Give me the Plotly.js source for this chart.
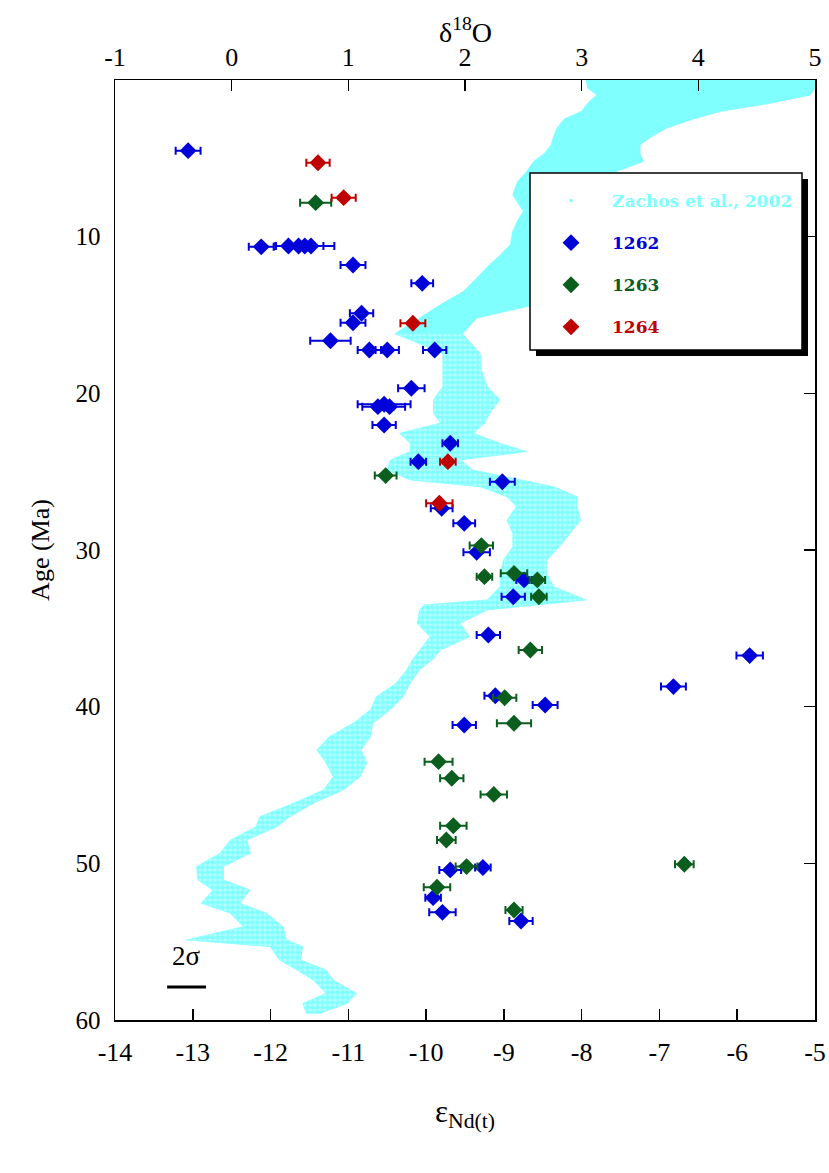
<!DOCTYPE html>
<html><head><meta charset="utf-8">
<script src="https://cdn.plot.ly/plotly-3.0.1.min.js"></script>
<style>body{margin:0;background:#fff}#plot{width:829px;height:1173px}</style>
</head><body><div id="plot"></div>
<script>
// Zachos et al., 2002 delta18O envelope (age Ma, min, max)
const zAge = [0, 0.5, 0.95, 1.5, 2.0, 2.5, 3.06, 3.6, 4.13, 4.7, 5.19, 5.83, 6.5, 7.32, 8.38, 9.0, 9.66, 10.5, 11.2, 11.8, 12.64, 13.49, 14.34, 15.19, 16.2, 17.45, 18.5, 19.57, 20.4, 21.28, 21.9, 22.55, 23.19, 23.72, 24.25, 24.9, 25.53, 25.96, 26.6, 27.23, 28.1, 28.94, 29.79, 30.64, 31.49, 32.34, 33.19, 33.5, 33.83, 34.68, 35.53, 36.38, 37.0, 37.66, 38.5, 39.36, 40.2, 41.06, 41.9, 42.76, 43.6, 44.47, 45.3, 46.17, 47.02, 47.66, 48.51, 49.36, 50.21, 51.06, 51.7, 52.55, 53.19, 54.04, 54.89, 55.32, 56.17, 56.81, 57.45, 58.3, 58.94, 59.57];
const zMin = [3.04, 3.05, 3.13, 3.05, 3.0, 2.85, 2.79, 2.76, 2.74, 2.68, 2.59, 2.53, 2.45, 2.41, 2.5, 2.45, 2.41, 2.39, 2.3, 2.21, 2.10, 1.99, 1.79, 1.61, 1.4, 1.81, 1.81, 1.81, 1.73, 1.73, 1.79, 1.44, 1.53, 1.53, 1.36, 1.33, 1.53, 2.13, 2.36, 2.44, 2.36, 2.41, 2.41, 2.33, 2.30, 2.30, 2.19, 1.65, 1.61, 1.59, 1.70, 1.61, 1.55, 1.50, 1.41, 1.24, 1.19, 1.04, 0.84, 0.73, 0.81, 0.87, 0.79, 0.53, 0.24, 0.21, -0.01, -0.10, -0.30, -0.29, -0.16, -0.26, -0.01, 0.10, -0.39, 0.33, 0.41, 0.56, 0.70, 0.81, 0.61, 0.64];
const zMax = [5.0, 5.0, 4.96, 4.6, 4.19, 3.95, 3.73, 3.6, 3.5, 3.5, 3.53, 3.3, 3.2, 3.2, 3.2, 3.2, 3.2, 3.2, 3.2, 3.2, 3.2, 3.2, 2.6, 2.1, 1.98, 2.13, 2.14, 2.19, 2.30, 2.21, 2.17, 2.07, 2.30, 2.53, 1.96, 2.07, 2.47, 2.76, 2.96, 2.96, 2.99, 2.90, 2.81, 2.70, 2.70, 2.76, 3.04, 2.6, 2.19, 1.96, 2.04, 1.79, 1.72, 1.61, 1.53, 1.47, 1.36, 1.21, 1.19, 1.11, 1.16, 1.10, 0.96, 0.70, 0.50, 0.39, 0.13, 0.16, -0.07, -0.07, 0.16, 0.07, 0.30, 0.44, 0.47, 0.61, 0.59, 0.81, 0.87, 1.07, 0.99, 0.76];
const denseUntil = 16.2; // cloud is nearly solid above this age, speckled below

// Site 1262
const age1262 = [4.51, 10.65, 10.6, 10.6, 10.6, 10.6, 11.81, 12.98, 14.89, 15.49, 16.64, 17.23, 17.23, 17.23, 19.68, 20.85, 20.7, 20.85, 22.02, 23.19, 24.36, 25.64, 27.34, 28.3, 30.15, 31.91, 32.98, 35.43, 36.74, 38.72, 39.3, 39.89, 41.17, 50.42, 50.27, 52.19, 53.13, 53.68];
const eNd1262 = [-13.06, -12.12, -11.77, -11.64, -11.56, -11.48, -10.94, -10.05, -10.83, -10.94, -11.23, -10.73, -10.50, -9.89, -10.19, -10.62, -10.54, -10.47, -10.54, -9.69, -10.10, -9.02, -9.80, -9.51, -9.35, -8.74, -8.88, -9.20, -5.84, -6.82, -9.11, -8.47, -9.51, -9.69, -9.27, -9.91, -9.79, -8.78];
const err1262 = [0.16, 0.16, 0.16, 0.16, 0.38, 0.16, 0.16, 0.14, 0.15, 0.16, 0.26, 0.15, 0.15, 0.15, 0.17, 0.2, 0.34, 0.2, 0.15, 0.1, 0.1, 0.16, 0.14, 0.14, 0.17, 0.1, 0.15, 0.15, 0.17, 0.16, 0.14, 0.16, 0.15, 0.14, 0.1, 0.1, 0.17, 0.15];

// Site 1263
const age1263 = [7.83, 25.25, 29.72, 31.7, 31.49, 31.91, 32.98, 36.38, 39.43, 41.06, 43.51, 44.57, 45.6, 47.6, 48.51, 50.21, 50.06, 51.53, 52.98];
const eNd1263 = [-11.42, -10.52, -9.29, -9.25, -8.87, -8.57, -8.55, -8.66, -8.99, -8.87, -9.84, -9.67, -9.13, -9.65, -9.74, -9.48, -6.68, -9.86, -8.87];
const err1263 = [0.2, 0.14, 0.15, 0.1, 0.17, 0.1, 0.1, 0.15, 0.15, 0.22, 0.18, 0.15, 0.17, 0.17, 0.12, 0.14, 0.12, 0.17, 0.11];

// Site 1264
const age1264 = [5.28, 7.51, 15.53, 24.36, 27.02];
const eNd1264 = [-11.39, -11.06, -10.17, -9.72, -9.83];
const err1264 = [0.15, 0.155, 0.16, 0.1, 0.17];

const eNdTicks = [-14, -13, -12, -11, -10, -9, -8, -7, -6, -5];
const d18OTicks = [-1, 0, 1, 2, 3, 4, 5];
const ageTicks = [10, 20, 30, 40, 50, 60];
const twoSigma = 0.5;

const CYAN = '#80FFFF', BLUE = '#0000D8', GREEN = '#0B5E1E', RED = '#C00000';
const serif = 'Liberation Serif, Times New Roman, serif';
const legFont = 'DejaVu Serif, serif';

function band(sel) {
  const idx = zAge.map(function (a, i) { return i; }).filter(function (i) { return sel(zAge[i]); });
  const lo = idx.map(function (i) { return zMin[i]; });
  const hi = idx.map(function (i) { return zMax[i]; }).reverse();
  const ag = idx.map(function (i) { return zAge[i]; });
  return {x: lo.concat(hi), y: ag.concat(ag.slice().reverse())};
}
const bandTop = band(function (a) { return a <= denseUntil; });
const bandLow = band(function (a) { return a >= denseUntil; });

function site(name, color, x, y, e, grp) {
  return {
    type: 'scatter', mode: 'markers', x: x, y: y, name: name,
    legendgroup: grp,
    marker: {symbol: 'diamond', size: 13, color: color, line: {width: 0}},
    error_x: {type: 'data', array: e, visible: true, color: color, thickness: 2, width: 4},
    xaxis: 'x2', yaxis: 'y2', cliponaxis: false
  };
}

const traces = [
  {type: 'scatter', mode: 'lines', x: bandTop.x, y: bandTop.y, fill: 'toself', fillcolor: CYAN,
   line: {color: CYAN, width: 1}, xaxis: 'x', yaxis: 'y', showlegend: false, hoverinfo: 'skip'},
  {type: 'scatter', mode: 'lines', x: bandLow.x, y: bandLow.y, fill: 'toself',
   fillcolor: 'rgba(128,255,255,0.6)',
   fillpattern: {shape: '.', fgcolor: CYAN, bgcolor: 'rgba(128,255,255,0.55)', size: 5, solidity: 0.7},
   line: {color: 'rgba(128,255,255,0.7)', width: 1}, xaxis: 'x', yaxis: 'y', showlegend: false, hoverinfo: 'skip'},
  {type: 'scatter', mode: 'markers', x: [null], y: [null], xaxis: 'x', yaxis: 'y',
   name: '<span style="color:' + CYAN + '">Zachos et al., 2002</span>', legendgroup: 'a',
   marker: {symbol: 'square', size: 3, color: CYAN}},
  site('<span style="color:' + BLUE + '">1262</span>', BLUE, eNd1262, age1262, err1262, 'b'),
  site('<span style="color:' + GREEN + '">1263</span>', GREEN, eNd1263, age1263, err1263, 'c'),
  site('<span style="color:' + RED + '">1264</span>', RED, eNd1264, age1264, err1264, 'd')
];

const axBase = {showgrid: false, zeroline: false, showline: true, linecolor: '#000', linewidth: 1.5,
  ticks: 'inside', ticklen: 11, tickwidth: 1.5, tickcolor: '#000'};

// legend box geometry in pixels (page coordinates)
const L = 115, T = 80, W = 700, H = 940;
const fx = function (p) { return (p - L) / W; };
const fy = function (p) { return 1 - (p - T) / H; };
const box = {left: 530, right: 802, top: 173, bottom: 350}, shadowOff = 6;

const layout = {
  width: 829, height: 1173,
  margin: {l: 115, r: 14, t: 80, b: 153},
  paper_bgcolor: '#fff', plot_bgcolor: '#fff',
  showlegend: true,
  font: {family: serif, color: '#000'},
  // top axis: delta18O (base subplot, holds the Zachos curve)
  xaxis: Object.assign({}, axBase, {
    side: 'top', anchor: 'y',
    range: [-1, 5], tickvals: d18OTicks, ticktext: d18OTicks.map(String),
    tickfont: {family: serif, size: 26, color: '#000'}, ticklabelstandoff: 2
  }),
  yaxis: Object.assign({}, axBase, {
    range: [60, 0], tickvals: ageTicks, ticktext: ageTicks.map(String), ticks: '',
    tickfont: {family: serif, size: 25, color: '#000'}, ticklabelstandoff: 8,
    title: {text: 'Age (Ma)', font: {family: serif, size: 26, color: '#000'}, standoff: 18}
  }),
  // bottom axis: eNd (overlay subplot, holds the site data, drawn on top)
  xaxis2: Object.assign({}, axBase, {
    overlaying: 'x', side: 'bottom', anchor: 'y',
    range: [-14, -5], tickvals: eNdTicks, ticktext: eNdTicks.map(String),
    tickfont: {family: serif, size: 26, color: '#000'}, ticklabelstandoff: 8,
    title: {text: 'ε<sub>Nd(t)</sub>', font: {family: serif, size: 31, color: '#000'}, standoff: 34}
  }),
  yaxis2: Object.assign({}, axBase, {
    overlaying: 'y', side: 'right', anchor: 'x',
    range: [60, 0], tickvals: [0].concat(ageTicks), showticklabels: false
  }),
  legend: {
    x: fx(530), y: fy(183), xanchor: 'left', yanchor: 'top',
    bgcolor: 'rgba(0,0,0,0)', borderwidth: 0,
    font: {family: legFont, size: 17, color: '#000', weight: 'bold'},
    traceorder: 'grouped', tracegroupgap: 17, itemwidth: 72,
    itemsizing: 'trace'
  },
  shapes: [
    {type: 'rect', xref: 'paper', yref: 'paper', layer: 'above',
     x0: fx(box.left + shadowOff), x1: fx(box.right + shadowOff),
     y0: fy(box.bottom + shadowOff), y1: fy(box.top + shadowOff),
     fillcolor: '#000', line: {width: 0}},
    {type: 'rect', xref: 'paper', yref: 'paper', layer: 'above',
     x0: fx(box.left), x1: fx(box.right), y0: fy(box.bottom), y1: fy(box.top),
     fillcolor: '#fff', line: {color: '#000', width: 1.5}},
    {type: 'line', xref: 'x2', yref: 'y', x0: -13.33, x1: -13.33 + twoSigma, y0: 57.9, y1: 57.9,
     line: {color: '#000', width: 3}}
  ],
  annotations: [
    {xref: 'x2', yref: 'y', x: -13.08, y: 55.9, text: '2σ', showarrow: false,
     font: {family: serif, size: 27, color: '#000'}},
    {xref: 'paper', yref: 'paper', x: 0.5, y: fy(30), yanchor: 'middle', xanchor: 'center',
     text: 'δ<sup>18</sup>O', showarrow: false, font: {family: serif, size: 28, color: '#000'}}
  ]
};

Plotly.newPlot('plot', traces, layout, {displayModeBar: false, staticPlot: true});
</script></body></html>
